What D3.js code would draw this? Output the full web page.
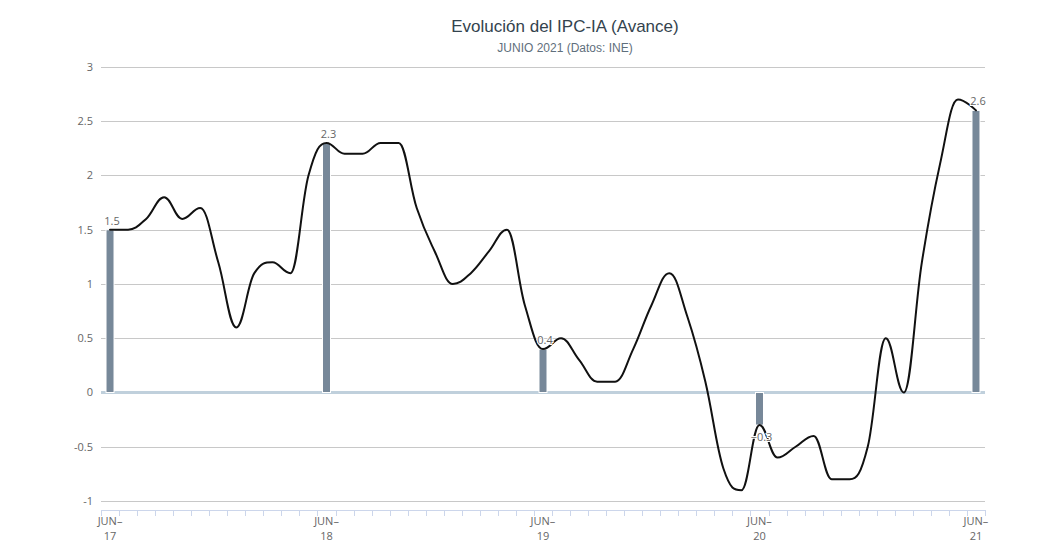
<!DOCTYPE html>
<html>
<head>
<meta charset="utf-8">
<script src="https://cdn.jsdelivr.net/npm/d3@7"></script>
<style>
  html, body { margin: 0; padding: 0; background: #fff; }
  svg { display: block; }
</style>
</head>
<body>
<svg id="chart" width="1044" height="550"></svg>
<script>
// ---- data ----
const months = [
  "2017-06","2017-07","2017-08","2017-09","2017-10","2017-11","2017-12",
  "2018-01","2018-02","2018-03","2018-04","2018-05","2018-06","2018-07","2018-08","2018-09","2018-10","2018-11","2018-12",
  "2019-01","2019-02","2019-03","2019-04","2019-05","2019-06","2019-07","2019-08","2019-09","2019-10","2019-11","2019-12",
  "2020-01","2020-02","2020-03","2020-04","2020-05","2020-06","2020-07","2020-08","2020-09","2020-10","2020-11","2020-12",
  "2021-01","2021-02","2021-03","2021-04","2021-05","2021-06"
];
const ipcValues = [
  1.5, 1.5, 1.6, 1.8, 1.6, 1.7, 1.2,
  0.6, 1.1, 1.2, 1.1, 2.0, 2.3, 2.2, 2.2, 2.3, 2.3, 1.7, 1.3,
  1.0, 1.1, 1.3, 1.5, 0.8, 0.4, 0.5, 0.3, 0.1, 0.1, 0.4, 0.8,
  1.1, 0.7, 0.1, -0.7, -0.9, -0.3, -0.6, -0.5, -0.4, -0.8, -0.8, -0.5,
  0.5, 0.0, 1.2, 2.1, 2.7, 2.6
];
const juneMonths = ["2017-06","2018-06","2019-06","2020-06","2021-06"];
const juneValues = [1.5, 2.3, 0.4, -0.3, 2.6];
const juneTickLabels = [["JUN–","17"],["JUN–","18"],["JUN–","19"],["JUN–","20"],["JUN–","21"]];
const yTicks = [-1, -0.5, 0, 0.5, 1, 1.5, 2, 2.5, 3];
const titleText = "Evolución del IPC-IA (Avance)";
const subtitleText = "JUNIO 2021 (Datos: INE)";

// ---- layout ----
const svg = d3.select("#chart");
const plot = { left: 101, right: 985, top: 67, bottom: 510 };
const yMin = -1.083, yMax = 3;

const x = d3.scaleBand().domain(months).range([plot.left, plot.right]).paddingInner(0).paddingOuter(0);
const xc = m => x(m) + x.bandwidth() / 2;
const y = d3.scaleLinear().domain([yMin, yMax]).range([plot.bottom, plot.top]);

svg.append("rect").attr("width", 1044).attr("height", 550).attr("fill", "#fff");

// title
svg.append("text").attr("x", 565).attr("y", 32).attr("text-anchor", "middle")
  .attr("font-family", "Liberation Sans, Arial, sans-serif").attr("font-size", 17)
  .attr("fill", "#33434e").text(titleText);
svg.append("text").attr("x", 565).attr("y", 52).attr("text-anchor", "middle")
  .attr("font-family", "Liberation Sans, Arial, sans-serif").attr("font-size", 12)
  .attr("fill", "#5f6f7c").text(subtitleText);

// grid
svg.append("g").selectAll("line").data(yTicks.filter(d => d !== 0)).join("line")
  .attr("x1", plot.left).attr("x2", plot.right)
  .attr("y1", d => Math.round(y(d)) + 0.5).attr("y2", d => Math.round(y(d)) + 0.5)
  .attr("stroke", "#c8c8c8").attr("stroke-width", 1);

// y labels
svg.append("g").selectAll("text").data(yTicks).join("text")
  .attr("x", 93).attr("y", d => y(d) + 4).attr("text-anchor", "end")
  .attr("font-family", "Open Sans, sans-serif").attr("font-size", 11)
  .attr("fill", "#666").text(d => d);

// x axis line + ticks
svg.append("line").attr("x1", plot.left).attr("x2", plot.right)
  .attr("y1", plot.bottom + 0.5).attr("y2", plot.bottom + 0.5)
  .attr("stroke", "#ccd6eb").attr("stroke-width", 1);
const tickPos = months.map(m => x(m)).concat([plot.right]);
svg.append("g").selectAll("line").data(tickPos).join("line")
  .attr("x1", d => Math.round(d) + 0.5).attr("x2", d => Math.round(d) + 0.5)
  .attr("y1", plot.bottom).attr("y2", plot.bottom + 6)
  .attr("stroke", "#ccd6eb").attr("stroke-width", 1);

// x labels
const xl = svg.append("g").selectAll("text").data(juneMonths).join("text")
  .attr("text-anchor", "middle")
  .attr("font-family", "Open Sans, sans-serif").attr("font-size", 11).attr("fill", "#666");
xl.append("tspan").attr("x", d => xc(d)).attr("y", plot.bottom + 15).text((d, i) => juneTickLabels[i][0]);
xl.append("tspan").attr("x", d => xc(d)).attr("y", plot.bottom + 30).text((d, i) => juneTickLabels[i][1]);

// zero line
svg.append("line").attr("x1", plot.left).attr("x2", plot.right)
  .attr("y1", y(0)).attr("y2", y(0))
  .attr("stroke", "#c0d0dc").attr("stroke-width", 3);

// bars
const barW = 8;
svg.append("g").selectAll("rect").data(juneMonths).join("rect")
  .attr("x", d => xc(d) - barW / 2)
  .attr("y", (d, i) => Math.min(y(juneValues[i]), y(0)))
  .attr("width", barW)
  .attr("height", (d, i) => Math.abs(y(juneValues[i]) - y(0)))
  .attr("fill", "#778899").attr("stroke", "#fff").attr("stroke-width", 1);

// Highcharts-like spline curve
function hcSpline(context) {
  let pts;
  return {
    areaStart() {}, areaEnd() {},
    lineStart() { pts = []; },
    point(px, py) { pts.push([+px, +py]); },
    lineEnd() {
      const n = pts.length;
      const ctrl = pts.map((p, i) => {
        if (i === 0 || i === n - 1) return null;
        const [lx, ly] = pts[i - 1], [px, py] = p, [nx, ny] = pts[i + 1];
        const lcx = (1.5 * px + lx) / 2.5, rcx = (1.5 * px + nx) / 2.5;
        let lcy = (1.5 * py + ly) / 2.5, rcy = (1.5 * py + ny) / 2.5;
        const corr = ((rcy - lcy) * (rcx - px)) / (rcx - lcx) + py - rcy;
        lcy += corr; rcy += corr;
        if (lcy > ly && lcy > py) { lcy = Math.max(ly, py); rcy = 2 * py - lcy; }
        else if (lcy < ly && lcy < py) { lcy = Math.min(ly, py); rcy = 2 * py - lcy; }
        if (rcy > ny && rcy > py) { rcy = Math.max(ny, py); lcy = 2 * py - rcy; }
        else if (rcy < ny && rcy < py) { rcy = Math.min(ny, py); lcy = 2 * py - rcy; }
        return { lcx, lcy, rcx, rcy };
      });
      context.moveTo(pts[0][0], pts[0][1]);
      for (let i = 1; i < n; i++) {
        const prev = ctrl[i - 1], cur = ctrl[i];
        const c1x = prev ? prev.rcx : pts[i - 1][0], c1y = prev ? prev.rcy : pts[i - 1][1];
        const c2x = cur ? cur.lcx : pts[i][0], c2y = cur ? cur.lcy : pts[i][1];
        context.bezierCurveTo(c1x, c1y, c2x, c2y, pts[i][0], pts[i][1]);
      }
    }
  };
}

const line = d3.line().x((d, i) => xc(months[i])).y(d => y(d)).curve(hcSpline);
svg.append("path").datum(ipcValues).attr("d", line)
  .attr("fill", "none").attr("stroke", "#111").attr("stroke-width", 2)
  .attr("stroke-linejoin", "round").attr("stroke-linecap", "round");

// bar labels
svg.append("g").selectAll("text").data(juneMonths).join("text")
  .attr("x", d => xc(d) + 2)
  .attr("y", (d, i) => juneValues[i] >= 0 ? y(juneValues[i]) - 5 : y(juneValues[i]) + 16)
  .attr("text-anchor", "middle")
  .attr("font-family", "Open Sans, sans-serif").attr("font-size", 11)
  .attr("fill", "#666").attr("stroke", "#fff").attr("stroke-width", 2)
  .attr("paint-order", "stroke")
  .text((d, i) => String(juneValues[i]).replace("-", "−"));
</script>
</body>
</html>
